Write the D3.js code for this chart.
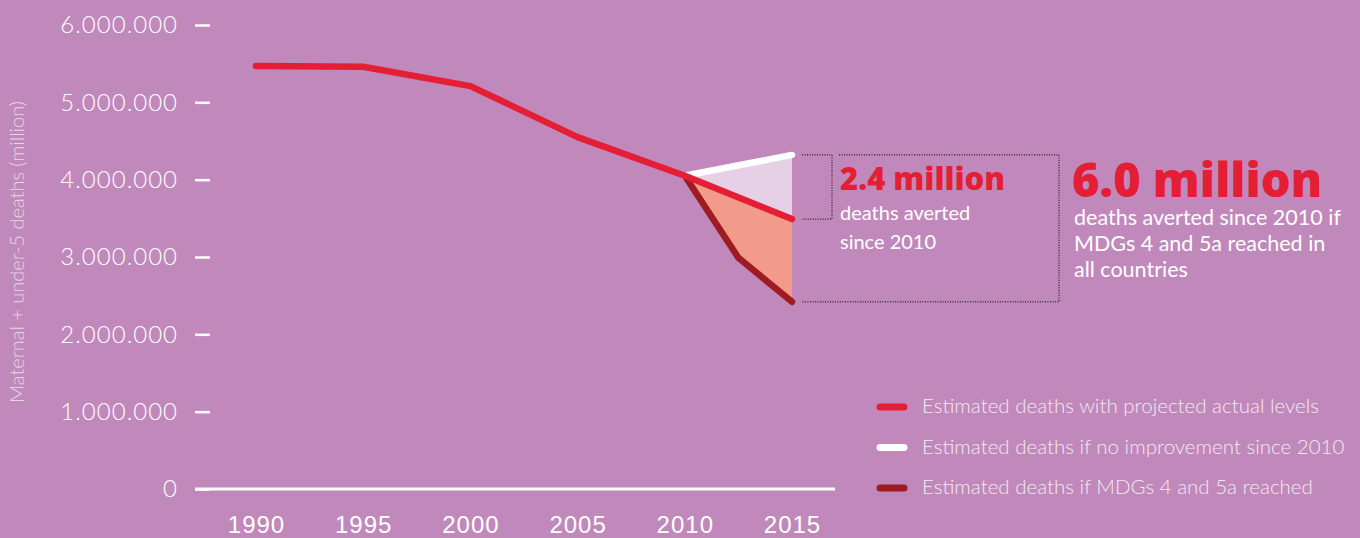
<!DOCTYPE html>
<html>
<head>
<meta charset="utf-8">
<script src="https://cdn.jsdelivr.net/npm/d3@7"></script>
<style>
  html, body { margin: 0; padding: 0; background: #c189bb; }
  svg { display: block; font-family: "Lato", "Open Sans", sans-serif; }
</style>
</head>
<body>
<div id="chart"></div>
<script>
// Maternal + under-5 deaths, actual vs scenarios
const years = [1990, 1995, 2000, 2005, 2010, 2015];
const actual = [5470000, 5460000, 5210000, 4550000, 4050000, 3490000];
const noImprovementYears = [2010, 2015];
const noImprovement = [4050000, 4320000];
const mdgYears = [2010, 2012.5, 2015];
const mdgReached = [4050000, 2990000, 2420000];
const yTicks = [0, 1000000, 2000000, 3000000, 4000000, 5000000, 6000000];

const legendItems = [
  { label: "Estimated deaths with projected actual levels", color: "#e31e35" },
  { label: "Estimated deaths if no improvement since 2010", color: "#ffffff" },
  { label: "Estimated deaths if MDGs 4 and 5a reached", color: "#9e1b21" }
];

(() => {
const W = 1360, H = 538;

const svg = d3.select("#chart")
  .append("svg")
  .attr("width", W)
  .attr("height", H);

svg.append("rect").attr("width", W).attr("height", H).attr("fill", "#c189bb");

const x = d3.scaleLinear().domain([1990, 2015]).range([256, 792]);
const y = d3.scaleLinear().domain([0, 6000000]).range([489, 25]);

const fmt = d3.formatLocale({ decimal: ",", thousands: ".", grouping: [3], currency: ["", ""] }).format(",d");

// series as point arrays
const actualPts = years.map((yr, i) => ({ year: yr, v: actual[i] }));
const whitePts = noImprovementYears.map((yr, i) => ({ year: yr, v: noImprovement[i] }));
const mdgPts = mdgYears.map((yr, i) => ({ year: yr, v: mdgReached[i] }));
const redTail = actualPts.filter(d => d.year >= 2010);

// Y axis
const yAxis = svg.append("g")
  .attr("transform", "translate(210,0)")
  .call(d3.axisLeft(y).tickValues(yTicks).tickFormat(fmt).tickSize(15).tickPadding(17));
yAxis.select(".domain").remove();
yAxis.selectAll(".tick line").attr("stroke", "#fff").attr("stroke-width", 2.5);
yAxis.selectAll(".tick text")
  .attr("fill", "#fff")
  .style("font-size", "24px")
  .style("letter-spacing", "1px")
  .style("font-family", "Lato, sans-serif")
  .style("font-weight", 300);

// Y title
svg.append("text")
  .attr("transform", "translate(24,252) rotate(-90)")
  .attr("text-anchor", "middle")
  .attr("fill", "#e8d6e5")
  .style("font-size", "20px")
  .style("font-weight", 300)
  .text("Maternal + under-5 deaths (million)");

// X axis
const xAxis = svg.append("g")
  .attr("transform", `translate(0,${y(0)})`)
  .call(d3.axisBottom(x).tickValues(years).tickFormat(d3.format("d")).tickSize(0).tickPadding(27));
xAxis.select(".domain").remove();
xAxis.selectAll(".tick text")
  .attr("fill", "#fff")
  .style("font-size", "24px")
  .style("letter-spacing", "1px")
  .style("font-weight", 300);

svg.append("line")
  .attr("x1", 195).attr("x2", 835)
  .attr("y1", y(0)).attr("y2", y(0))
  .attr("stroke", "#fff")
  .attr("stroke-width", 3);

const line = d3.line().x(d => x(d.year)).y(d => y(d.v));

// Filled gaps between scenarios
svg.append("path")
  .attr("d", line(redTail.concat(whitePts.slice().reverse())) + "Z")
  .attr("fill", "#e6d0e5");
svg.append("path")
  .attr("d", line(redTail.concat(mdgPts.slice().reverse())) + "Z")
  .attr("fill", "#f39b8b");

// Lines
const drawLine = (pts, color) => svg.append("path")
  .datum(pts)
  .attr("fill", "none")
  .attr("stroke", color)
  .attr("stroke-width", 6.5)
  .attr("stroke-linecap", "round")
  .attr("stroke-linejoin", "round")
  .attr("d", line);

drawLine(whitePts, "#ffffff");
drawLine(mdgPts, "#9e1b21");
drawLine(actualPts, "#e31e35");

// Dotted brackets
const xEnd = x(2015);
const dotted = (pts) => svg.append("path")
  .attr("d", d3.line()(pts))
  .attr("fill", "none")
  .attr("stroke", "#000")
  .attr("stroke-width", 1)
  .attr("stroke-dasharray", "1,1.5");

const yWhite = y(noImprovement[1]), yRed = y(actual[5]), yMdg = y(mdgReached[2]);
dotted([[xEnd + 10, yWhite], [832, yWhite], [832, yRed], [xEnd + 10, yRed]]);
dotted([[839, yWhite], [1059, yWhite], [1059, yMdg], [xEnd + 10, yMdg]]);

// Annotations
svg.append("text")
  .attr("x", 840).attr("y", 190)
  .attr("fill", "#e31e35")
  .style("font-family", "'Open Sans', sans-serif")
  .style("font-size", "31px")
  .style("font-weight", 800)
  .text("2.4 million");

const note1 = svg.append("text")
  .attr("x", 840).attr("y", 220)
  .attr("fill", "#fff")
  .style("font-size", "20px")
  .style("font-weight", 400);
["deaths averted", "since 2010"].forEach((t, i) =>
  note1.append("tspan").attr("x", 840).attr("dy", i ? 29 : 0).text(t));

svg.append("text")
  .attr("x", 1072).attr("y", 197)
  .attr("fill", "#e31e35")
  .style("font-family", "'Open Sans', sans-serif")
  .style("font-size", "47px")
  .style("font-weight", 800)
  .text("6.0 million");

const note2 = svg.append("text")
  .attr("x", 1074).attr("y", 225)
  .attr("fill", "#fff")
  .style("font-size", "21.5px")
  .style("font-weight", 400);
["deaths averted since 2010 if", "MDGs 4 and 5a reached in", "all countries"].forEach((t, i) =>
  note2.append("tspan").attr("x", 1074).attr("dy", i ? 26 : 0).text(t));

// Legend
const legend = svg.append("g").attr("transform", "translate(877,407)");
legendItems.forEach((d, i) => {
  const g = legend.append("g").attr("transform", `translate(0,${i * 40.5})`);
  g.append("line")
    .attr("x1", 3).attr("x2", 27)
    .attr("stroke", d.color)
    .attr("stroke-width", 7)
    .attr("stroke-linecap", "round");
  g.append("text")
    .attr("x", 45).attr("y", 6)
    .attr("fill", "#f3e8f1")
    .style("font-size", "20.5px")
    .style("font-weight", 300)
    .text(d.label);
});
})();
</script>
</body>
</html>
